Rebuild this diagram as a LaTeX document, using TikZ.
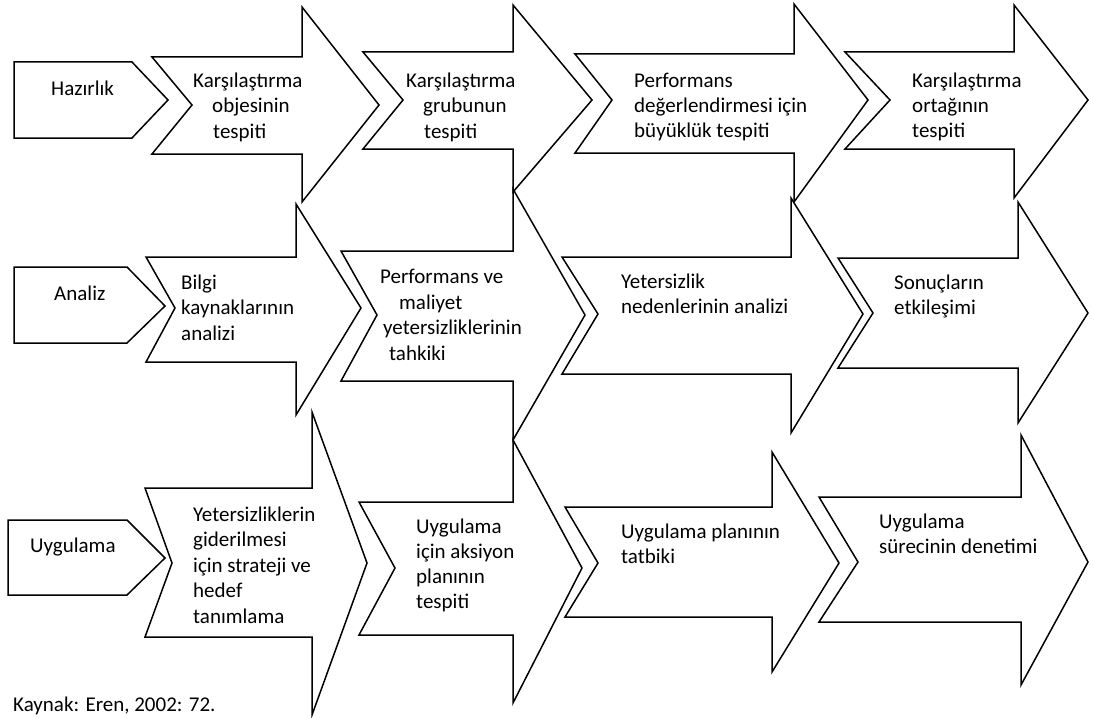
\documentclass[tikz,border=0pt]{standalone}
\usepackage{fontspec}
\setmainfont{Carlito}
\newcommand\ArrowShape[9]{%
  \draw[shp] (#1,#2) -- (#5,#2) -- (#5,#6) -- (#8,#9) -- (#5,#7) -- (#5,#3) -- (#1,#3) -- (#4,#9) -- cycle;}
\tikzset{
  shp/.style={draw=black, fill=white, line width=1.5pt, line join=miter},
  txt/.style={font=\fontsize{21}{25.5}\selectfont, align=left, anchor=base west, inner sep=0pt},
  txtb/.style={font=\fontsize{21}{25}\selectfont, align=left, anchor=base west, inner sep=0pt}
}
\begin{document}
\begin{tikzpicture}[x=1pt,y=-1pt]
\useasboundingbox (0,0) rectangle (1094,717);
\fill[white] (0,0) rectangle (1094,717);
% row labels
\draw[shp] (14,62) -- (132,62) -- (168,100) -- (132,138) -- (14,138) -- cycle;
\draw[shp] (14,267) -- (127,267) -- (165,306) -- (127,343) -- (14,343) -- cycle;
\draw[shp] (8,520) -- (127,520) -- (165,558) -- (127,595) -- (8,595) -- cycle;
% arrows: tail x, top, bottom, notch x, head x, head top, head bottom, tip x, mid y
% row 1
\ArrowShape{152}{57}{154}{192}{302}{7}{202}{379}{105}
\ArrowShape{363}{52}{149}{403}{513}{5}{192}{592}{100}
\ArrowShape{575}{54}{153}{612}{794}{4}{202}{868}{100}
\ArrowShape{845}{52}{149}{890}{1014}{5}{198}{1088}{100}
% row 2
\ArrowShape{146}{257}{362}{175}{296}{204}{415}{361}{308}
\ArrowShape{341}{251}{381}{377}{513}{189}{440}{585}{315}
\ArrowShape{562}{257}{374}{598}{791}{198}{433}{863}{314}
\ArrowShape{838}{258}{368}{873}{1018}{202}{423}{1088}{313}
% row 3
\ArrowShape{145}{488}{637}{172}{312}{412}{715}{367}{563}
\ArrowShape{359}{502}{635}{395}{513}{440}{703}{582}{568}
\ArrowShape{565}{507}{617}{598}{772}{452}{672}{839}{563}
\ArrowShape{819}{497}{622}{858}{1021}{435}{685}{1088}{562}
% texts (positions = baseline of last line)
\node[txt] (t0) at (51,95) {Hazırlık};
\node[txt] (t11) at (193,138) {Karşılaştırma\\\hspace*{19pt}objesinin\\\hspace*{20pt}tespiti};
\node[txt] (t12) at (406,138) {Karşılaştırma\\\hspace*{17pt}grubunun\\\hspace*{18pt}tespiti};
\node[txtb] (t13) at (634,137) {Performans\\değerlendirmesi için\\büyüklük tespiti};
\node[txtb] (t14) at (912,137) {Karşılaştırma\\ortağının\\tespiti};
% row 2
\node[txt] (t1) at (54,300) {Analiz};
\node[txt] (t21) at (181,340) {Bilgi\\kaynaklarının\\analizi};
\node[txt] (t22) at (380,360) {Performans ve\\\hspace*{19pt}maliyet\\\hspace*{3pt}yetersizliklerinin\\\hspace*{9pt}tahkiki};
\node[txtb] (t23) at (621,313) {Yetersizlik\\nedenlerinin analizi};
\node[txtb] (t24) at (894,314) {Sonuçların\\etkileşimi};
% row 3
\node[txt] (t2) at (30,552) {Uygulama};
\node[txt] (t31) at (193,623) {Yetersizliklerin\\giderilmesi\\için strateji ve\\hedef\\tanımlama};
\node[txtb] (t32) at (416,608) {Uygulama\\için aksiyon\\planının\\tespiti};
\node[txtb] (t33) at (621,563) {Uygulama planının\\tatbiki};
\node[txtb] (t34) at (879,553) {Uygulama\\sürecinin denetimi};
% source
\node[txt] (src) at (13,711) {Kaynak: Eren, 2002: 72.};
\end{tikzpicture}
\end{document}
